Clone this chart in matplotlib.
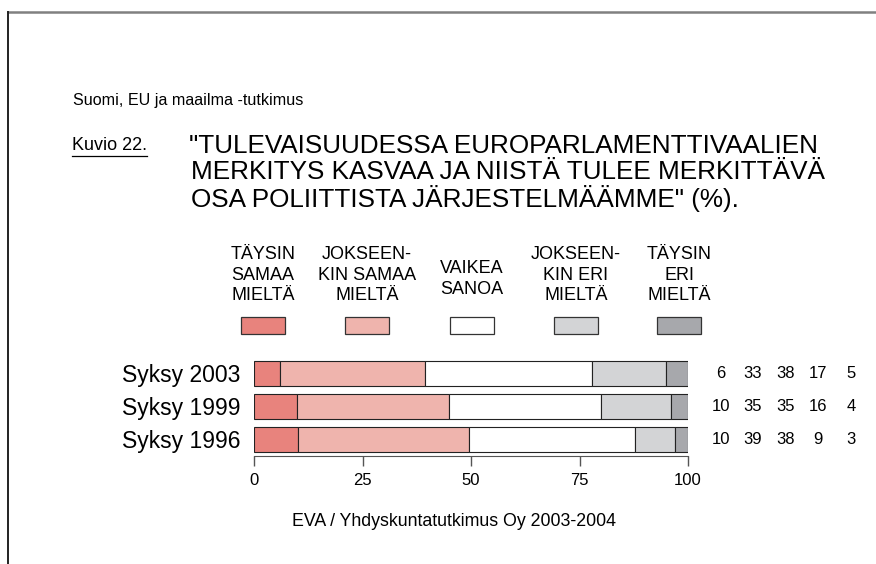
import numpy as np
import matplotlib
matplotlib.use('Agg')
import matplotlib.pyplot as plt
from matplotlib.patches import Rectangle
from matplotlib.lines import Line2D
from matplotlib import transforms

# data
seasons = ['Syksy 2003', 'Syksy 1999', 'Syksy 1996']
taysin_samaa = [6, 10, 10]
jokseenkin_samaa = [33, 35, 39]
vaikea_sanoa = [38, 35, 38]
jokseenkin_eri = [17, 16, 9]
taysin_eri = [5, 4, 3]
categories = ['TÄYSIN\nSAMAA\nMIELTÄ', 'JOKSEEN-\nKIN SAMAA\nMIELTÄ', 'VAIKEA\nSANOA',
              'JOKSEEN-\nKIN ERI\nMIELTÄ', 'TÄYSIN\nERI\nMIELTÄ']
colors = ['#e8837d', '#efb4ad', '#ffffff', '#d3d4d6', '#a7a8ac']
xticks = [0, 25, 50, 75, 100]

W, H = 876, 564
plt.rcParams['font.family'] = ['Liberation Sans', 'DejaVu Sans']


def fx(x):
    return x / W


def fy(y):
    return 1 - y / H


fig = plt.figure(figsize=(W / 100, H / 100), dpi=100)

# page frame
fig.add_artist(Line2D([fx(8), 1], [fy(12), fy(12)], color='#808080', lw=1.8))
fig.add_artist(Line2D([fx(8), fx(8)], [fy(12), 0], color='#222222', lw=1.4))

# headings
fig.text(fx(73), fy(100), 'Suomi, EU ja maailma -tutkimus', fontsize=11.6, va='center')
fig.text(fx(72), fy(146), 'Kuvio 22.', fontsize=13, va='center')
fig.add_artist(Line2D([fx(72), fx(147)], [fy(156), fy(156)], color='black', lw=0.9))
title_lines = ['"TULEVAISUUDESSA EUROPARLAMENTTIVAALIEN',
               'MERKITYS KASVAA JA NIISTÄ TULEE MERKITTÄVÄ',
               'OSA POLIITTISTA JÄRJESTELMÄÄMME" (%).']
for i, line in enumerate(title_lines):
    fig.text(fx(189 if i == 0 else 191), fy(146 + 26 * i), line, fontsize=18.8, va='center')

# legend
box_centers = [263, 367, 472, 576, 679]
for cx, lab, col in zip(box_centers, categories, colors):
    nl = lab.count('\n') + 1
    fig.text(fx(cx), fy(275 + (3 - nl) * 4), lab, fontsize=13,
             ha='center', va='center', multialignment='center', linespacing=1.3)
    fig.add_artist(Rectangle((fx(cx - 22), fy(334)), 44 / W, 17 / H, facecolor=col,
                             edgecolor='#333333', lw=0.9, transform=fig.transFigure))

# bars
ax = fig.add_axes([fx(254), fy(456), (688 - 254) / W, 99 / H])
data = np.array([taysin_samaa, jokseenkin_samaa, vaikea_sanoa, jokseenkin_eri, taysin_eri], dtype=float)
shares = data / data.sum(axis=0) * 100
ypos = np.arange(len(seasons))[::-1]
left = np.zeros(len(seasons))
for k in range(len(categories)):
    ax.barh(ypos, shares[k], left=left, height=25 / 33, color=colors[k],
            edgecolor='#222222', lw=0.8)
    left += shares[k]

ax.set_xlim(0, 100)
ax.set_ylim(-0.51, 2.49)
for s in ['top', 'left', 'right']:
    ax.spines[s].set_visible(False)
ax.spines['bottom'].set_color('#555555')
ax.set_xticks(xticks)
ax.set_xticklabels([str(t) for t in xticks])
ax.tick_params(axis='x', length=7, width=1, color='#555555', labelsize=12, pad=5)
ax.set_yticks(ypos)
ax.set_yticklabels(seasons, fontsize=16.5)
ax.tick_params(axis='y', length=0, pad=10)

# value columns on the right
tr = transforms.blended_transform_factory(fig.transFigure, ax.transData)
col_x = [721, 753, 786, 818, 851]
for k in range(len(categories)):
    for j, y in enumerate(ypos):
        ax.text(fx(col_x[k]), y, str(int(data[k, j])), transform=tr, fontsize=12,
                ha='center', va='center')

fig.text(fx(454), fy(521), 'EVA / Yhdyskuntatutkimus Oy 2003-2004', fontsize=12.8,
         ha='center', va='center')

fig.savefig('out.png', dpi=100)
